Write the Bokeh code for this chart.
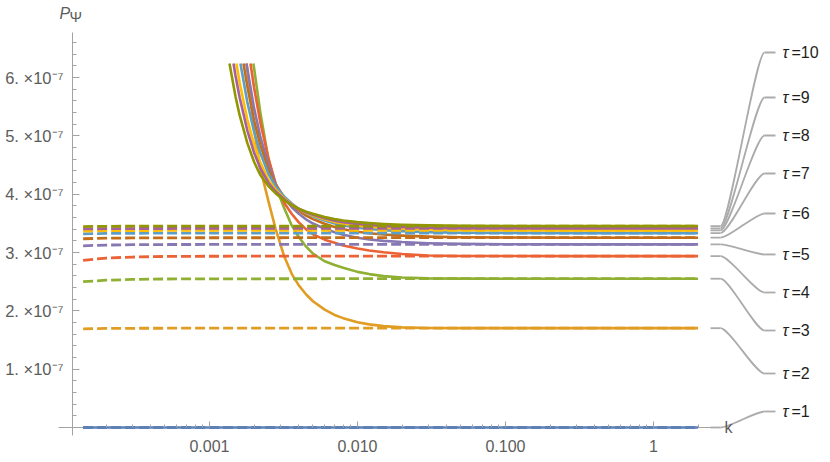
from bokeh.plotting import figure
from bokeh.models import Range1d, FixedTicker
from bokeh.embed import file_html
from bokeh.resources import INLINE
from bokeh.core.properties import value

# ---------------- data (P_Psi in units of 1e-7) ----------------
TAU = [1, 2, 3, 4, 5, 6, 7, 8, 9, 10]
COLORS = ["#5E81B5", "#E19C24", "#8FB032", "#EB6235", "#8778B3",
          "#C56E1A", "#5D9EC7", "#FFBF00", "#A5609D", "#929600"]

K_START = 0.00014
K_END = 2.0
P_CLIP = 6.24  # curves leave the visible range here

K_GRID = [0.0015, 0.0016, 0.0018, 0.002, 0.0022, 0.0025, 0.0028, 0.0032, 0.0036,
          0.004, 0.0045, 0.005, 0.006, 0.007, 0.008, 0.01, 0.012, 0.015, 0.02,
          0.03, 0.05, 0.1, 0.3, 1.0, 2.0]
N = None
K_TOP = [None, 0.001778, 0.00198, 0.001892, 0.001778, 0.001697, 0.001618, 0.00152, 0.001453, 0.001365]

solid_t1_k = [K_START, K_END]
solid_t1 = [0.0, 0.0]
solid_t2 = [N, N, 6.15, 5.12, 4.45, 3.88, 3.40, 2.93, 2.63, 2.44, 2.28, 2.165, 2.02, 1.93, 1.875,
            1.805, 1.768, 1.738, 1.716, 1.706, 1.704, 1.703, 1.703, 1.703, 1.703]
solid_t3 = [N, N, N, N, 5.42, 4.60, 4.14, 3.76, 3.46, 3.27, 3.10, 2.98, 2.85, 2.785, 2.74,
            2.668, 2.63, 2.595, 2.572, 2.557, 2.552, 2.551, 2.551, 2.551, 2.551]
solid_t4 = [N, N, N, 5.83, 5.24, 4.62, 4.18, 3.85, 3.66, 3.52, 3.396, 3.312, 3.22, 3.169, 3.12,
            3.07, 3.035, 3.004, 2.974, 2.950, 2.941, 2.939, 2.938, 2.938, 2.938]
solid_t5 = [N, N, 6.156, 5.475, 4.995, 4.499, 4.175, 3.929, 3.776, 3.668, 3.566, 3.497, 3.407,
            3.348, 3.304, 3.253, 3.224, 3.200, 3.179, 3.160, 3.148, 3.142, 3.139, 3.139, 3.139]
solid_t6 = [N, N, 5.854, 5.264, 4.854, 4.426, 4.156, 3.951, 3.820, 3.723, 3.633, 3.572, 3.493,
            3.439, 3.400, 3.356, 3.331, 3.308, 3.290, 3.273, 3.262, 3.257, 3.254, 3.254, 3.254]
solid_t7 = [N, N, 5.583, 5.072, 4.715, 4.348, 4.132, 3.956, 3.839, 3.751, 3.673, 3.619, 3.549,
            3.499, 3.464, 3.424, 3.402, 3.383, 3.366, 3.350, 3.340, 3.336, 3.333, 3.333, 3.333]
solid_t8 = [N, 5.912, 5.283, 4.853, 4.553, 4.245, 4.076, 3.929, 3.824, 3.747, 3.681, 3.635, 3.571,
            3.525, 3.496, 3.461, 3.441, 3.424, 3.408, 3.394, 3.385, 3.381, 3.379, 3.379, 3.379]
solid_t9 = [6.025, 5.652, 5.095, 4.713, 4.451, 4.196, 4.045, 3.913, 3.818, 3.750, 3.690, 3.649,
            3.588, 3.546, 3.520, 3.488, 3.471, 3.454, 3.440, 3.426, 3.418, 3.415, 3.413, 3.413, 3.413]
solid_t10 = [5.671, 5.350, 4.879, 4.557, 4.334, 4.139, 4.013, 3.894, 3.810, 3.752, 3.701, 3.664,
             3.607, 3.572, 3.549, 3.521, 3.505, 3.490, 3.477, 3.465, 3.458, 3.455, 3.453, 3.453, 3.453]
SOLIDS = [None, solid_t2, solid_t3, solid_t4, solid_t5, solid_t6, solid_t7, solid_t8, solid_t9, solid_t10]

DASH_K = [0.00014, 0.0002, 0.0003, 0.0005, 0.001, 0.01, 0.1, 1.0, 2.0]
dash_t1 = [0.0, 0.0, 0.0, 0.0, 0.0, 0.0, 0.0, 0.0, 0.0]
dash_t2 = [1.692, 1.698, 1.701, 1.702, 1.703, 1.703, 1.703, 1.703, 1.703]
dash_t3 = [2.500, 2.525, 2.538, 2.546, 2.549, 2.551, 2.551, 2.551, 2.551]
dash_t4 = [2.865, 2.905, 2.922, 2.932, 2.936, 2.938, 2.938, 2.938, 2.938]
dash_t5 = [3.115, 3.128, 3.134, 3.137, 3.138, 3.139, 3.139, 3.139, 3.139]
dash_t6 = [3.236, 3.246, 3.250, 3.252, 3.253, 3.254, 3.254, 3.254, 3.254]
dash_t7 = [3.320, 3.327, 3.330, 3.332, 3.333, 3.333, 3.333, 3.333, 3.333]
dash_t8 = [3.368, 3.374, 3.377, 3.378, 3.379, 3.379, 3.379, 3.379, 3.379]
dash_t9 = [3.404, 3.409, 3.411, 3.412, 3.413, 3.413, 3.413, 3.413, 3.413]
dash_t10 = [3.445, 3.449, 3.451, 3.452, 3.453, 3.453, 3.453, 3.453, 3.453]
DASHES = [dash_t1, dash_t2, dash_t3, dash_t4, dash_t5, dash_t6, dash_t7, dash_t8, dash_t9, dash_t10]

X_TICKS = [0.001, 0.01, 0.1, 1.0]
X_TICK_LABELS = ["0.001", "0.010", "0.100", "1"]
Y_TICKS = [1, 2, 3, 4, 5, 6]

# ---------------- layout helpers (screen pixels -> data) ----------------
W, H = 830, 462

def kx(px):
    return 10 ** (-3 + (px - 209.0) / 148.0)

def vy(py):
    return (427.0 - py) / 58.33

LABEL_PY = [411, 373, 330, 292, 254, 213, 173, 135, 97, 52]
FONT = "Liberation Sans"
GRAY_TXT = "#5c5c5c"
AXIS_COL = "#a3a3a3"
CALLOUT = "#ababab"

p = figure(width=W, height=H, x_axis_type="log",
           x_range=Range1d(kx(0), kx(W)), y_range=Range1d(vy(H), vy(0)),
           output_backend="svg", toolbar_location=None, min_border=0)
p.outline_line_color = None
p.xgrid.visible = False
p.ygrid.visible = False
p.background_fill_color = "white"

# axes at fixed locations (crossing axes)
p.xaxis.fixed_location = 0
p.yaxis.fixed_location = kx(72)
x_minor = [m * 10.0 ** e for e in range(-4, 1) for m in range(2, 10) if m * 10.0 ** e <= 2.0]
p.xaxis.ticker = FixedTicker(ticks=X_TICKS, minor_ticks=x_minor)
p.xaxis.major_label_overrides = {t: s for t, s in zip(X_TICKS, X_TICK_LABELS)}
y_minor = [i * 0.2 for i in range(1, 34) if i % 5 != 0]
p.yaxis.ticker = FixedTicker(ticks=Y_TICKS, minor_ticks=y_minor)
p.yaxis.major_label_overrides = {t: f"{t}. \u00d710\u207b\u2077" for t in Y_TICKS}
for ax in (p.xaxis, p.yaxis):
    ax.axis_line_color = None
    ax.major_tick_line_color = AXIS_COL
    ax.minor_tick_line_color = AXIS_COL
    ax.major_tick_out = 0
    ax.minor_tick_out = 0
    ax.major_label_text_font = FONT
    ax.major_label_text_font_size = "16px"
    ax.major_label_text_color = GRAY_TXT
p.yaxis.major_label_text_font_size = "16.5px"
p.xaxis.major_tick_in = 6
p.xaxis.minor_tick_in = 3
p.yaxis.major_tick_in = 7
p.yaxis.minor_tick_in = 4
p.xaxis.major_label_standoff = 12
p.yaxis.major_label_standoff = 9

# axis lines
p.segment(x0=[kx(58)], y0=[0], x1=[kx(716)], y1=[0], line_color=AXIS_COL, line_width=1)
p.segment(x0=[kx(72)], y0=[vy(435)], x1=[kx(72)], y1=[vy(32)], line_color=AXIS_COL, line_width=1)

# solid curves
p.line(solid_t1_k, solid_t1, line_color=COLORS[0], line_width=2.6)
for i in range(1, 10):
    ks = [K_TOP[i]] + [k for k, v in zip(K_GRID, SOLIDS[i]) if v is not None]
    vs = [P_CLIP] + [v for v in SOLIDS[i] if v is not None]
    p.line(ks, vs, line_color=COLORS[i], line_width=2.6, line_join="round")

# dashed curves
for i in range(10):
    p.line(DASH_K, DASHES[i], line_color=COLORS[i], line_width=2.8, line_dash="10 4")

# callouts
ends = [solid_t1[-1]] + [SOLIDS[i][-1] for i in range(1, 10)]
labs = [vy(py) for py in LABEL_PY]
p.segment(x0=[kx(710)] * 10, y0=ends, x1=[kx(720)] * 10, y1=ends, line_color=CALLOUT, line_width=1.8)
p.bezier(x0=[kx(720)] * 10, y0=ends, x1=[kx(764)] * 10, y1=labs,
         cx0=[kx(729)] * 10, cy0=ends, cx1=[kx(755)] * 10, cy1=labs,
         line_color=CALLOUT, line_width=1.8)
p.segment(x0=[kx(764)] * 10, y0=labs, x1=[kx(775)] * 10, y1=labs, line_color=CALLOUT, line_width=1.8)
p.text(x=[kx(782)] * 10, y=labs, text=["\u03c4"] * 10, text_font=value(FONT),
       text_font_size="16px", text_font_style="italic", text_baseline="middle",
       text_align="left", text_color="#1e1e1e")
p.text(x=[kx(791)] * 10, y=labs, text=[f"={t}" for t in TAU], text_font=value(FONT),
       text_font_size="16px", text_baseline="middle", text_align="left", text_color="#1e1e1e")

# axis titles
p.text(x=[kx(724)], y=[0], text=["k"], text_font=value(FONT), text_font_size="16px",
       text_baseline="middle", text_align="left", text_color=GRAY_TXT)
p.text(x=[kx(59)], y=[vy(12.5)], text=["P"], text_font=value(FONT), text_font_size="16px",
       text_font_style="italic", text_baseline="middle", text_align="left", text_color=GRAY_TXT)
p.text(x=[kx(69)], y=[vy(16)], text=["\u03a8"], text_font=value(FONT), text_font_size="15px",
       text_baseline="middle", text_align="left", text_color=GRAY_TXT)

open("out.html", "w").write(file_html(p, INLINE))
